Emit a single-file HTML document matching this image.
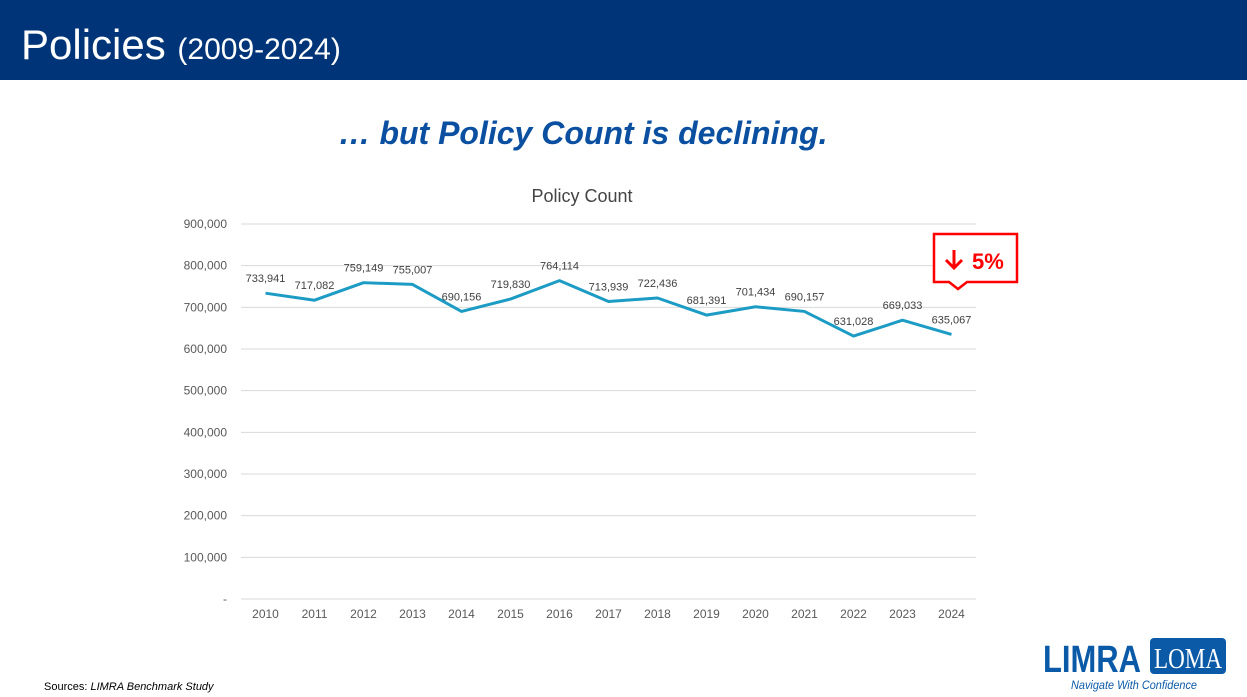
<!DOCTYPE html>
<html><head><meta charset="utf-8"><style>
body{margin:0;width:1247px;height:697px;background:#fff;font-family:"Liberation Sans",sans-serif;overflow:hidden;position:relative}
#hdr{position:absolute;left:0;top:0;width:1247px;height:80px;background:#003478}
#ttl{position:absolute;left:21px;top:21px;color:#fff;font-size:42px;white-space:nowrap}
#ttl span{font-size:30px}
#sub{position:absolute;left:0;width:1166px;top:115px;text-align:center;color:#0a4fa0;font-size:32px;font-weight:bold;font-style:italic}
#src{position:absolute;left:44px;top:681px;font-size:11px;color:#000}
</style></head><body>
<div id="hdr"><div id="ttl">Policies <span>(2009-2024)</span></div></div>
<div id="sub">… but Policy Count is declining.</div>
<svg id="chart" width="1247" height="697" style="position:absolute;left:0;top:0"></svg>
<div id="src">Sources: <i>LIMRA Benchmark Study</i></div>
<svg width="190" height="60" style="position:absolute;left:1040px;top:636px">
<text x="3" y="36" font-family="Liberation Sans" font-weight="bold" font-size="38" fill="#0a5aa8" textLength="98" lengthAdjust="spacingAndGlyphs">LIMRA</text>
<rect x="110" y="2" width="76" height="36" rx="4" fill="#0a5aa8"/>
<text x="148" y="32" font-family="Liberation Serif" font-size="28" fill="#fff" text-anchor="middle" textLength="68" lengthAdjust="spacingAndGlyphs">LOMA</text>
<text x="31" y="53" font-family="Liberation Sans" font-style="italic" font-size="11.5" fill="#0a5aa8" textLength="126" lengthAdjust="spacingAndGlyphs">Navigate With Confidence</text>
</svg>
<script>
const years=["2010","2011","2012","2013","2014","2015","2016","2017","2018","2019","2020","2021","2022","2023","2024"];
const values=[733941,717082,759149,755007,690156,719830,764114,713939,722436,681391,701434,690157,631028,669033,635067];
const yTicks=[0,100000,200000,300000,400000,500000,600000,700000,800000,900000];
const NS="http://www.w3.org/2000/svg";
const svg=document.getElementById('chart');
const x0=241,x1=976,yb=599,yt=224,ymax=900000;
const step=(x1-x0)/years.length;
const X=i=>x0+step*(i+0.5);
const Y=v=>yb-(v/ymax)*(yb-yt);
const fmt=v=>v===0?"-":v.toLocaleString('en-US');
function mk(t,a,txt){const e=document.createElementNS(NS,t);for(const k in a)e.setAttribute(k,a[k]);if(txt!==undefined)e.textContent=txt;svg.appendChild(e);return e;}
let ct=mk('text',{x:582,y:202,'text-anchor':'middle','font-size':18,fill:'#444','font-family':'Liberation Sans'},'Policy Count');


yTicks.forEach(v=>{
 if(v>0){const g=mk('line',{x1:x0,x2:x1,y1:Y(v),y2:Y(v),stroke:'#d9d9d9','stroke-width':1});
 
 }
 const t=mk('text',{x:227,y:Y(v)+4,'text-anchor':'end','font-size':12,fill:'#595959','font-family':'Liberation Sans'},fmt(v));
 
 
});
const ax=mk('line',{x1:x0,x2:x1,y1:yb,y2:yb,stroke:'#d9d9d9','stroke-width':1});


years.forEach((y,i)=>{
 const t=mk('text',{x:X(i),y:618,'text-anchor':'middle','font-size':12,fill:'#595959','font-family':'Liberation Sans'},y);
 
 
});
const ln=mk('polyline',{points:values.map((v,i)=>X(i)+','+Y(v)).join(' '),fill:'none',stroke:'#1c9cc4','stroke-width':3,'stroke-linejoin':'round'});


values.forEach((v,i)=>{
 const t=mk('text',{x:X(i),y:Y(v)-11,'text-anchor':'middle','font-size':11,fill:'#404040','font-family':'Liberation Sans'},fmt(v));
 
 
});
const co=mk('path',{d:'M934,234 H1017 V282 H967 L958,289 L949,282 H934 Z',fill:'#fff',stroke:'#ff0000','stroke-width':2.5});


const ar=mk('path',{d:'M954,250 V268 M946,260 L954,268 L962,260',fill:'none',stroke:'#ff0000','stroke-width':3});


const pc=mk('text',{x:972,y:269,'font-size':22,'font-weight':'bold',fill:'#ff0000','font-family':'Liberation Sans'},'5%');


</script>
</body></html>
